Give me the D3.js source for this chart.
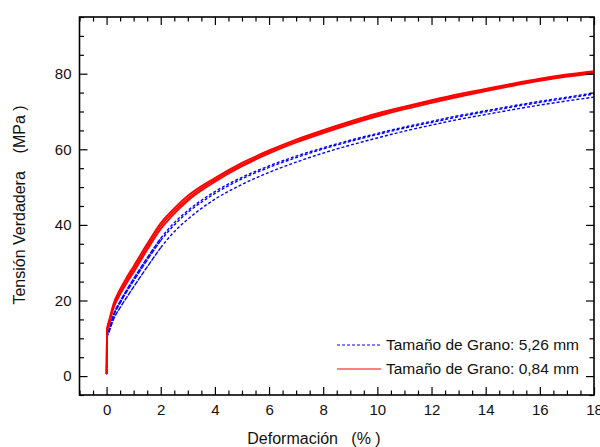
<!DOCTYPE html>
<html>
<head>
<meta charset="utf-8">
<script src="https://cdn.jsdelivr.net/npm/d3@7"></script>
<style>
  body { margin: 0; background: #fff; }
  text { font-family: "Liberation Sans", Arial, sans-serif; fill: #111; }
</style>
</head>
<body>
<script>
// Deformación (%) común a todas las curvas
const deformacion = [0, 0.02, 0.1, 0.25, 0.5, 0.75, 1, 1.5, 2, 2.5, 3, 4, 5, 6, 7, 8, 9, 10, 11, 12, 13, 14, 15, 16, 17, 18];

// Tamaño de grano 0,84 mm (banda roja, varios ensayos)
const rojoA = [0.6, 12.6, 14.9, 19, 23, 26.2, 29.1, 35, 40.5, 44.4, 47.7, 52.4, 56.4, 59.7, 62.6, 65.1, 67.4, 69.5, 71.3, 73, 74.6, 76, 77.4, 78.7, 79.8, 80.7];
const rojoB = [0.6, 12.2, 14.4, 18.4, 22.3, 25.4, 28.3, 34.2, 39.7, 43.7, 47, 51.9, 55.9, 59.3, 62.2, 64.7, 67, 69.1, 71, 72.7, 74.2, 75.7, 77.1, 78.4, 79.5, 80.4];
const rojoC = [0.6, 11.8, 13.9, 17.8, 21.6, 24.7, 27.5, 33.4, 38.9, 43, 46.4, 51.4, 55.5, 58.9, 61.8, 64.3, 66.6, 68.7, 70.6, 72.3, 73.9, 75.4, 76.8, 78.1, 79.2, 80.1];

// Tamaño de grano 5,26 mm (curvas azules discontinuas)
const azulA = [0.5, 10.8, 12.6, 16.2, 19.8, 22.9, 25.8, 31.3, 36.5, 40.6, 43.8, 48.8, 52.6, 55.6, 58.2, 60.4, 62.4, 64.2, 65.9, 67.4, 68.9, 70.2, 71.5, 72.7, 73.8, 74.9];
const azulB = [0.5, 10.6, 12.3, 15.8, 19.3, 22.4, 25.2, 30.7, 35.9, 40, 43.3, 48.3, 52.2, 55.2, 57.8, 60.1, 62.1, 63.9, 65.6, 67.1, 68.6, 69.9, 71.2, 72.4, 73.5, 74.6];
const azulC = [0.5, 10.2, 11.8, 14.9, 18.1, 20.9, 23.6, 28.9, 34, 38.2, 41.5, 46.8, 50.7, 53.9, 56.6, 59, 61.1, 63, 64.8, 66.4, 67.9, 69.2, 70.5, 71.7, 72.8, 73.8];

const xTicks = [0, 2, 4, 6, 8, 10, 12, 14, 16, 18];
const yTicks = [0, 20, 40, 60, 80];
const leyenda = ["Tamaño de Grano: 5,26 mm", "Tamaño de Grano: 0,84 mm"];

const width = 600, height = 447;
const mIzq = 79.5, mDer = 594, mSup = 17, mInf = 395;

const svg = d3.select("body").append("svg")
    .attr("width", width)
    .attr("height", height);

const x = d3.scaleLinear().domain([-1, 18]).range([mIzq, mDer]);
const y = d3.scaleLinear().domain([-5, 95]).range([mInf, mSup]);

svg.append("clipPath").attr("id", "clip")
  .append("rect")
    .attr("x", mIzq).attr("y", mSup)
    .attr("width", mDer - mIzq).attr("height", mInf - mSup);

const line = d3.line()
    .x(d => x(d[0]))
    .y(d => y(d[1]))
    .curve(d3.curveMonotoneX);

const plot = svg.append("g").attr("clip-path", "url(#clip)");

// el tramo inicial (0-2 %) tiene muchos puntos y la línea discontinua se ve casi continua
const corte = deformacion.indexOf(2);

// curvas azules
[azulA, azulB, azulC].forEach(serie => {
  const pts = serie.map((v, i) => [deformacion[i], v]);
  plot.append("path")
      .attr("d", line(pts.slice(0, corte + 1)))
      .attr("fill", "none")
      .attr("stroke", "#0000ff")
      .attr("stroke-width", 1.4)
      .attr("stroke-dasharray", "5,1");
  plot.append("path")
      .attr("d", line(pts.slice(corte)))
      .attr("fill", "none")
      .attr("stroke", "#0000ff")
      .attr("stroke-width", 1.4)
      .attr("stroke-dasharray", "3,2");
});

// curvas rojas
[rojoA, rojoB, rojoC].forEach(serie => {
  plot.append("path")
      .attr("d", line(serie.map((v, i) => [deformacion[i], v])))
      .attr("fill", "none")
      .attr("stroke", "#ff0000")
      .attr("stroke-width", 1.8);
});

// ejes con marcas hacia dentro
const xMinor = d3.range(-1, 18.01, 0.5).filter(v => !xTicks.includes(v));
const yMinor = d3.range(-5, 95.01, 5).filter(v => !yTicks.includes(v));

function ejes(g, axis) {
  g.call(axis);
  g.select(".domain").remove();
  g.selectAll("line").attr("stroke", "#000").attr("stroke-width", 1.2);
  g.selectAll("text").attr("font-size", 15).attr("fill", "#111");
}

svg.append("g").attr("transform", `translate(0,${mInf})`)
    .call(g => ejes(g, d3.axisBottom(x).tickValues(xTicks).tickSize(-8).tickPadding(9)));
svg.append("g").attr("transform", `translate(0,${mInf})`)
    .call(g => ejes(g, d3.axisBottom(x).tickValues(xMinor).tickSize(-4.5).tickFormat("")));
svg.append("g").attr("transform", `translate(0,${mSup})`)
    .call(g => ejes(g, d3.axisTop(x).tickValues(xTicks).tickSize(-8).tickFormat("")));
svg.append("g").attr("transform", `translate(0,${mSup})`)
    .call(g => ejes(g, d3.axisTop(x).tickValues(xMinor).tickSize(-4.5).tickFormat("")));

svg.append("g").attr("transform", `translate(${mIzq},0)`)
    .call(g => ejes(g, d3.axisLeft(y).tickValues(yTicks).tickSize(-8).tickPadding(8)));
svg.append("g").attr("transform", `translate(${mIzq},0)`)
    .call(g => ejes(g, d3.axisLeft(y).tickValues(yMinor).tickSize(-4.5).tickFormat("")));
svg.append("g").attr("transform", `translate(${mDer},0)`)
    .call(g => ejes(g, d3.axisRight(y).tickValues(yTicks).tickSize(-8).tickFormat("")));
svg.append("g").attr("transform", `translate(${mDer},0)`)
    .call(g => ejes(g, d3.axisRight(y).tickValues(yMinor).tickSize(-4.5).tickFormat("")));

// marco
svg.append("rect")
    .attr("x", mIzq).attr("y", mSup)
    .attr("width", mDer - mIzq).attr("height", mInf - mSup)
    .attr("fill", "none")
    .attr("stroke", "#000")
    .attr("stroke-width", 1.6);

// títulos de ejes
svg.append("text")
    .attr("x", 314).attr("y", 444)
    .attr("text-anchor", "middle")
    .attr("font-size", 16)
    .attr("xml:space", "preserve")
    .text("Deformación   (% )");

svg.append("text")
    .attr("transform", "translate(25,205) rotate(-90)")
    .attr("text-anchor", "middle")
    .attr("font-size", 16)
    .attr("xml:space", "preserve")
    .text("Tensión Verdadera    (MPa )");

// leyenda
const ley = svg.append("g");
leyenda.forEach((t, i) => {
  const yy = 345 + i * 24;
  ley.append("line")
      .attr("x1", 337).attr("x2", 381)
      .attr("y1", yy).attr("y2", yy)
      .attr("stroke", i === 0 ? "#0000ff" : "#ff0000")
      .attr("stroke-width", 1)
      .attr("stroke-dasharray", i === 0 ? "3,2" : null);
  ley.append("text")
      .attr("x", 386).attr("y", yy)
      .attr("dy", "0.35em")
      .attr("font-size", 15.5)
      .text(t);
});
</script>
</body>
</html>
